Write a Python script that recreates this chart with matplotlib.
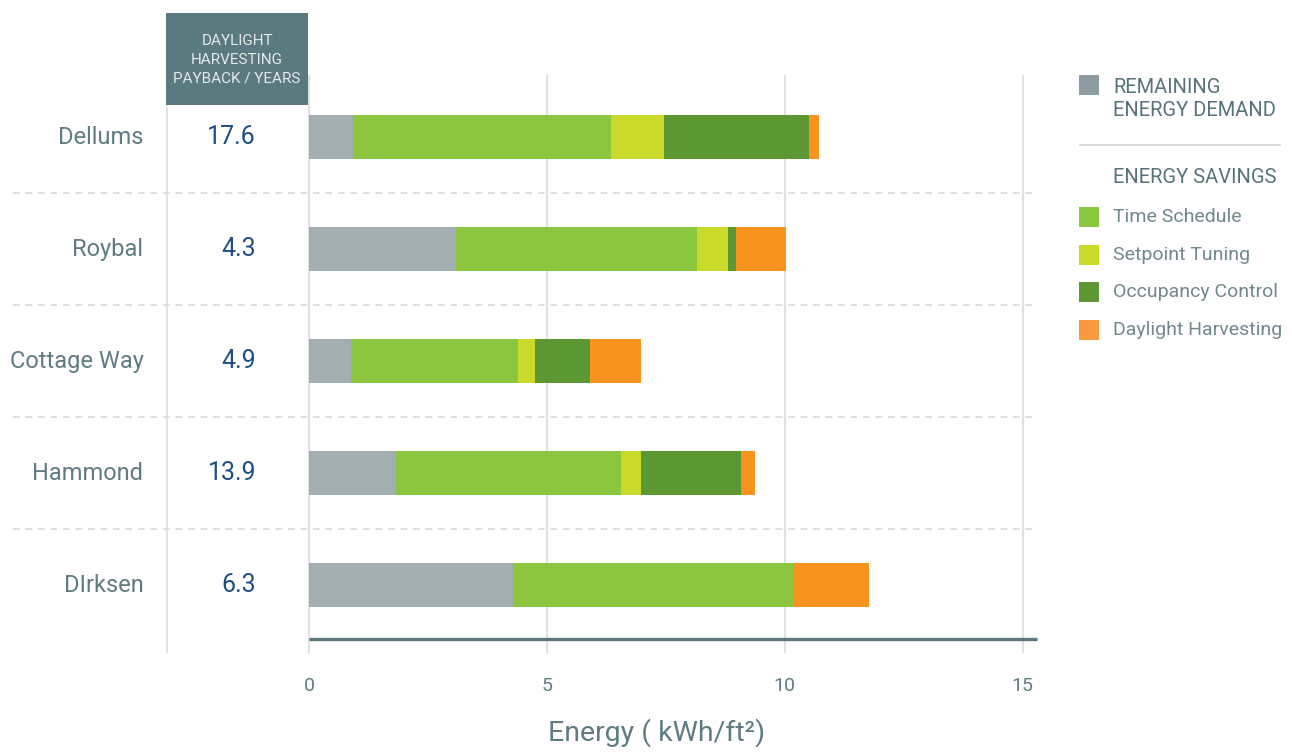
import matplotlib
matplotlib.use("Agg")
import matplotlib.pyplot as plt
from matplotlib import font_manager
from matplotlib.patches import Rectangle

# buildings, top to bottom
buildings = ["Dellums", "Roybal", "Cottage Way", "Hammond", "DIrksen"]
payback_years = ["17.6", "4.3", "4.9", "13.9", "6.3"]

# energy use intensity pieces, kWh/ft2
remaining = [0.92, 3.09, 0.88, 1.82, 4.29]
time_schedule = [5.43, 5.07, 3.51, 4.74, 5.89]
setpoint_tuning = [1.11, 0.65, 0.36, 0.42, 0.0]
occupancy_control = [3.05, 0.17, 1.16, 2.10, 0.0]
daylight_harvesting = [0.21, 1.05, 1.07, 0.30, 1.59]

x_ticks = [0, 5, 10, 15]

GRAY = "#a3aeb3"
GREEN = "#8cc63f"
YELLOW = "#c9da2a"
DARK_GREEN = "#5d9733"
ORANGE = "#f7941e"
TEAL = "#5f7c82"
NAVY = "#1d4f85"
HEADER = "#5b7a7f"

available = {f.name for f in font_manager.fontManager.ttflist}
if "Liberation Sans Narrow" in available:
    FONT = ["Liberation Sans Narrow", "DejaVu Sans"]
else:
    FONT = ["Roboto", "DejaVu Sans"]
plt.rcParams["font.family"] = FONT

W, H = 1292, 752
fig = plt.figure(figsize=(W / 100, H / 100), dpi=100)


def fpos(x, y):
    # pixel position -> figure fraction
    return x / W, 1 - y / H


ax = fig.add_axes([13 / W, 1 - 653 / H, 1024 / W, (653 - 75) / H])
ax.set_xlim(-6.22, 15.30)
ax.set_ylim(4.607, -0.554)
for s in ax.spines.values():
    s.set_visible(False)

ypos = list(range(len(buildings)))
segments = [
    (remaining, GRAY),
    (time_schedule, GREEN),
    (setpoint_tuning, YELLOW),
    (occupancy_control, DARK_GREEN),
    (daylight_harvesting, ORANGE),
]
left = [0.0] * len(buildings)
for vals, col in segments:
    ax.barh(ypos, vals, left=left, height=0.393, color=col, zorder=3)
    left = [l + v for l, v in zip(left, vals)]

# vertical grid and the payback column divider
for xt in x_ticks:
    ax.axvline(xt, color="#dde3e5", lw=1.5, zorder=1)
ax.axvline(-2.985, color="#dde3e5", lw=1.5, zorder=1)

# dashed row separators
for i in range(len(buildings) - 1):
    ax.axhline(i + 0.5, color="#d5dadc", lw=1.2, dashes=(4, 3.5), zorder=2)

# baseline under the bars
ax.plot([0, 15.3], [4.48, 4.48], color="#5a777d", lw=2.4, solid_capstyle="butt",
        zorder=4, clip_on=False)

ax.set_xticks(x_ticks)
ax.set_xticklabels([str(t) for t in x_ticks])
ax.set_yticks([])
ax.tick_params(axis="x", length=0, pad=17, labelsize=14, labelcolor=TEAL)

# row labels and payback numbers
for i, (name, yrs) in enumerate(zip(buildings, payback_years)):
    ax.text(-3.48, i, name, ha="right", va="center", fontsize=17, color=TEAL)
    ax.text(-1.11, i, yrs, ha="right", va="center", fontsize=18, color=NAVY)

# payback column header
ax.add_patch(Rectangle((-3.0, -1.107), 2.98, 0.821, facecolor=HEADER,
                       edgecolor="none", clip_on=False, zorder=5))
ax.text(-1.51, -0.69, "DAYLIGHT\nHARVESTING\nPAYBACK / YEARS", ha="center",
        va="center", fontsize=11, color="#e3eaeb", linespacing=1.45,
        zorder=6, clip_on=False)

x0, y0 = fpos(657, 733)
fig.text(x0, y0, "Energy ( kWh/ft²)", ha="center", va="center", fontsize=20.5,
         color=TEAL)

# legend built by hand
def legend_square(cy, col):
    x, y = fpos(1079, cy + 10)
    fig.patches.append(Rectangle((x, y), 20 / W, 20 / H, facecolor=col,
                                 edgecolor="none", transform=fig.transFigure,
                                 figure=fig))


legend_square(85, "#8c9ca2")
tx, ty = fpos(1113, 99)
fig.text(tx, ty, "REMAINING\nENERGY DEMAND", ha="left", va="center",
         fontsize=14.5, color="#56737a", linespacing=1.3)

lx0, ly = fpos(1080, 145)
lx1, _ = fpos(1280, 145)
fig.add_artist(plt.Line2D([lx0, lx1], [ly, ly], color="#d8dee0", lw=1.5,
                          transform=fig.transFigure))

tx, ty = fpos(1113, 177.5)
fig.text(tx, ty, "ENERGY SAVINGS", ha="left", va="center", fontsize=14.5,
         color="#56737a")

legend_items = ["Time Schedule", "Setpoint Tuning", "Occupancy Control",
                "Daylight Harvesting"]
legend_colors = [GREEN, YELLOW, DARK_GREEN, "#f89b3e"]
legend_y = [216.7, 255, 291.7, 330]
for label, col, cy in zip(legend_items, legend_colors, legend_y):
    legend_square(cy, col)
    tx, ty = fpos(1113, cy)
    fig.text(tx, ty, label, ha="left", va="center", fontsize=14,
             color="#71888d")

fig.savefig("out.png", dpi=100)
